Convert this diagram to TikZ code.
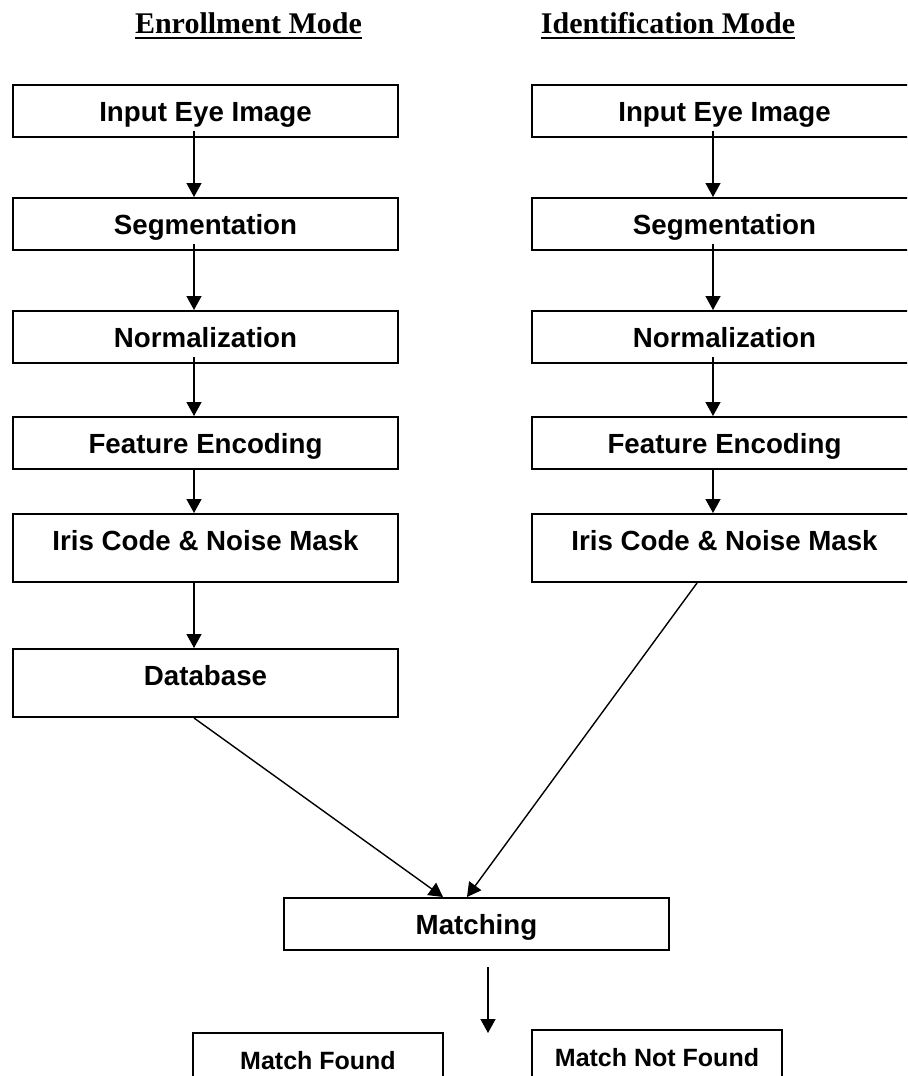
\documentclass[tikz,border=0pt]{standalone}
\usepackage{fontspec}
\setmainfont{Liberation Sans}
\newfontfamily\headfont{Liberation Serif}
\usetikzlibrary{arrows.meta}

\begin{document}
\begin{tikzpicture}[x = 0.5pt, y = -0.5pt,
		>={Triangle[length=7pt,width=7.5pt]},
		stage/.style = {draw, line width=1pt, minimum width=192.5pt, minimum height=26pt,
			inner ysep=0pt, text height=10pt, text depth=0pt,
			font=\bfseries\fontsize{13.85}{16}\selectfont},
		tallstage/.style = {stage, minimum height=34pt, text height=18pt, text depth=16pt},
		result/.style = {stage, minimum width=125pt, font=\bfseries\fontsize{12.5}{15}\selectfont},
		modetitle/.style = {anchor=base, inner xsep=0pt, font=\headfont\bfseries\fontsize{15}{18}\selectfont},
		arr/.style = {line width=0.7pt, ->}]
					\clip (0,0) rectangle (907,1076);

					\node [modetitle] (etitle) at (248.5,33) {Enrollment Mode};
					\node [modetitle] (ititle) at (668,33) {Identification Mode};
					\draw [line width=1pt] ([yshift=-2.7pt]etitle.base west) -- ([yshift=-2.7pt]etitle.base east);
					\draw [line width=1pt] ([yshift=-2.7pt]ititle.base west) -- ([yshift=-2.7pt]ititle.base east);

					\node [stage] (ein) at (205.5,111) {Input Eye Image};
					\node [stage] (eseg) at (205.5,224) {Segmentation};
					\node [stage] (enorm) at (205.5,337) {Normalization};
					\node [stage] (efeat) at (205.5,443) {Feature Encoding};
					\node [tallstage] (eiris) at (205.5,548) {Iris Code \& Noise Mask};
					\node [tallstage] (edb) at (205.5,683) {Database};

					\node [stage] (iin) at (724.5,111) {Input Eye Image};
					\node [stage] (iseg) at (724.5,224) {Segmentation};
					\node [stage] (inorm) at (724.5,337) {Normalization};
					\node [stage] (ifeat) at (724.5,443) {Feature Encoding};
					\node [tallstage] (iiris) at (724.5,548) {Iris Code \& Noise Mask};

					\node [stage] (match) at (476.5,924) {Matching};
					\node [result] (found) at (318,1059) {Match Found};
					\node [result] (notfound) at (657,1056) {Match Not Found};
					\coordinate (fork) at (488,1033);

					\draw [arr] ([xshift=-5.75pt,yshift=3.5pt]ein.south) -- ([xshift=-5.75pt]eseg.north);
					\draw [arr] ([xshift=-5.75pt,yshift=3.5pt]eseg.south) -- ([xshift=-5.75pt]enorm.north);
					\draw [arr] ([xshift=-5.75pt,yshift=3.5pt]enorm.south) -- ([xshift=-5.75pt]efeat.north);
					\draw [arr] ([xshift=-5.75pt]efeat.south) -- ([xshift=-5.75pt]eiris.north);
					\draw [arr] ([xshift=-5.75pt]eiris.south) -- ([xshift=-5.75pt]edb.north);

					\draw [arr] ([xshift=-5.75pt,yshift=3.5pt]iin.south) -- ([xshift=-5.75pt]iseg.north);
					\draw [arr] ([xshift=-5.75pt,yshift=3.5pt]iseg.south) -- ([xshift=-5.75pt]inorm.north);
					\draw [arr] ([xshift=-5.75pt,yshift=3.5pt]inorm.south) -- ([xshift=-5.75pt]ifeat.north);
					\draw [arr] ([xshift=-5.75pt]ifeat.south) -- ([xshift=-5.75pt]iiris.north);

					\draw [arr] ([xshift=-5.75pt]edb.south) -- ([xshift=-16.75pt]match.north);
					\draw [arr] ([xshift=-13.75pt]iiris.south) -- ([xshift=-4.75pt]match.north);
					\draw [arr] ([xshift=5.75pt,yshift=-8pt]match.south) -- (fork);
				\end{tikzpicture}
\end{document}
